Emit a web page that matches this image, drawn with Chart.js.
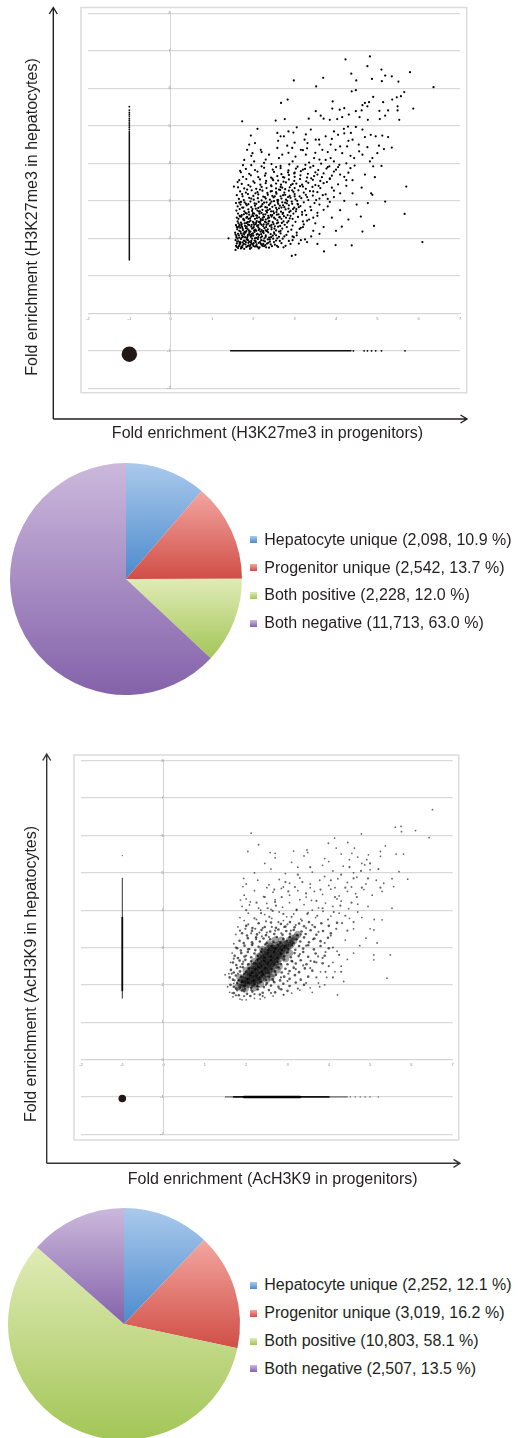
<!DOCTYPE html>
<html>
<head>
<meta charset="utf-8">
<script src="https://cdn.jsdelivr.net/npm/chart.js@4.4.1/dist/chart.umd.min.js"></script>
<style>
  body { margin: 0; width: 518px; height: 1438px; overflow: hidden; background: #fff; position: relative;
         font-family: "Liberation Sans", Arial, sans-serif; color: #231f20; }
  canvas { position: absolute; left: 0; }
  .title { position: absolute; font-size: 16px; line-height: 16px; white-space: nowrap; }
  .legend-row { position: absolute; left: 250px; font-size: 16px; line-height: 16px; white-space: nowrap; }
  .legend-row i { position: absolute; left: 0; top: 4.8px; width: 7px; height: 7px; }
  .legend-row span { position: absolute; left: 14.3px; top: 0; }
</style>
</head>
<body>
<canvas id="scatterK27" width="518" height="445" style="top:0px"></canvas>
<canvas id="pieK27" width="252" height="232" style="top:462.7px"></canvas>
<canvas id="scatterAc" width="518" height="450" style="top:740px"></canvas>
<canvas id="pieAc" width="248" height="232" style="top:1208.3px"></canvas>

<div class="title" style="left:267.5px; top:424.8px; transform:translateX(-50%)">Fold enrichment (H3K27me3 in progenitors)</div>
<div class="title" style="left:32.2px; top:217.2px; transform:translate(-50%,-50%) rotate(-90deg)">Fold enrichment (H3K27me3 in hepatocytes)</div>
<div class="title" style="left:272.7px; top:1170.8px; transform:translateX(-50%)">Fold enrichment (AcH3K9 in progenitors)</div>
<div class="title" style="left:30.5px; top:973.7px; transform:translate(-50%,-50%) rotate(-90deg)">Fold enrichment (AcH3K9 in hepatocytes)</div>

<div id="legendK27"></div>
<div id="legendAc"></div>

<script>
// ---- axes ----
const xRange = [-2, 7];
const yRange = [-2, 8];

// ---- pie data ----
const categories = ["Hepatocyte unique", "Progenitor unique", "Both positive", "Both negative"];
const k27Counts = [2098, 2542, 2228, 11713];
const k27Percents = [10.9, 13.7, 12.0, 63.0];
const acCounts = [2252, 3019, 10803, 2507];
const acPercents = [12.1, 16.2, 58.1, 13.5];

// ---- H3K27me3 scatter (progenitor x, hepatocyte y) ----
// peaks found only in hepatocytes sit at x = -1, only in progenitors at y = -1
const k27HepLine = [1.42, 4.85];
const k27HepDots = [4.9, 4.95, 5.0, 5.05, 5.1, 5.15, 5.2, 5.26, 5.31, 5.36, 5.42, 5.51];
const k27ProgLine = [1.45, 4.36];
const k27ProgDots = [4.42, 4.68, 4.76, 4.86, 4.96, 5.1, 5.67];
const k27BothNeg = [-1, -1.09];
const k27Cloud = [
  [1.63,1.74],[1.71,1.77],[1.78,1.72],[1.86,1.79],[1.95,1.75],[2.04,1.78],[2.13,1.73],[2.22,1.8],[2.31,1.76],[1.58,1.8],[2.45,1.79],[2.6,1.77],[2.78,1.8],
  [1.6,1.86],[1.67,1.83],[1.74,1.89],[1.81,1.84],[1.88,1.88],[1.93,1.82],[2.01,1.87],[2.08,1.84],[2.16,1.9],[2.24,1.85],[2.36,1.88],[2.52,1.83],[2.68,1.87],[2.9,1.85],[3.1,1.86],
  [1.57,1.95],[1.64,1.92],[1.7,1.98],[1.77,1.94],[1.84,1.97],[1.9,1.91],[1.97,1.99],[2.05,1.93],[2.11,1.98],[2.19,1.95],[2.28,1.92],[2.4,1.97],[2.55,1.94],[2.71,1.99],[2.86,1.93],[3.25,1.97],
  [1.59,2.06],[1.66,2.02],[1.73,2.08],[1.8,2.03],[1.87,2.09],[1.94,2.04],[2.0,2.07],[2.07,2.01],[2.14,2.09],[2.21,2.05],[2.3,2.08],[2.38,2.02],[2.47,2.07],[2.62,2.04],[2.8,2.09],[2.98,2.03],[3.4,2.05],
  [1.56,2.15],[1.63,2.12],[1.69,2.18],[1.76,2.13],[1.83,2.19],[1.9,2.14],[1.96,2.11],[2.03,2.17],[2.1,2.12],[2.17,2.18],[2.25,2.14],[2.33,2.19],[2.42,2.11],[2.5,2.16],[2.66,2.13],[2.84,2.18],[3.05,2.15],[3.6,2.12],
  [1.61,2.24],[1.68,2.28],[1.75,2.22],[1.82,2.27],[1.89,2.21],[1.97,2.26],[2.05,2.23],[2.12,2.29],[2.2,2.22],[2.27,2.27],[2.35,2.24],[2.44,2.29],[2.55,2.21],[2.7,2.26],[2.92,2.23],[3.15,2.28],
  [1.58,2.35],[1.65,2.32],[1.72,2.38],[1.8,2.33],[1.87,2.37],[1.95,2.31],[2.02,2.36],[2.09,2.33],[2.17,2.39],[2.24,2.32],[2.32,2.36],[2.4,2.33],[2.49,2.38],[2.6,2.31],[2.76,2.36],[2.95,2.34],[3.22,2.37],
  [1.62,2.45],[1.7,2.42],[1.78,2.48],[1.86,2.43],[1.93,2.47],[2.01,2.41],[2.08,2.46],[2.16,2.43],[2.23,2.49],[2.31,2.42],[2.39,2.46],[2.47,2.43],[2.58,2.48],[2.69,2.41],[2.85,2.46],[3.02,2.44],[3.3,2.47],
  [1.6,2.55],[1.68,2.58],[1.76,2.52],[1.85,2.57],[1.92,2.53],[2.0,2.59],[2.09,2.54],[2.18,2.51],[2.26,2.57],[2.35,2.53],[2.44,2.58],[2.53,2.52],[2.63,2.56],[2.74,2.59],[2.88,2.53],[3.08,2.57],[3.45,2.55],
  [1.63,2.66],[1.72,2.62],[1.81,2.68],[1.9,2.63],[1.99,2.67],[2.07,2.61],[2.15,2.66],[2.24,2.63],[2.33,2.69],[2.42,2.62],[2.5,2.67],[2.61,2.64],[2.72,2.68],[2.83,2.62],[2.97,2.66],[3.18,2.63],[3.55,2.68],
  [1.59,2.74],[1.67,2.78],[1.78,2.72],[1.88,2.77],[1.97,2.73],[2.06,2.79],[2.14,2.71],[2.22,2.76],[2.31,2.73],[2.4,2.78],[2.48,2.72],[2.57,2.76],[2.67,2.71],[2.78,2.77],[2.9,2.73],[3.04,2.78],[3.25,2.74],[3.7,2.76],
  [1.62,2.85],[1.73,2.82],[1.84,2.88],[1.95,2.83],[2.04,2.87],[2.12,2.81],[2.2,2.86],[2.29,2.83],[2.38,2.89],[2.46,2.84],[2.55,2.81],[2.64,2.87],[2.75,2.83],[2.86,2.88],[2.99,2.82],[3.14,2.86],[3.38,2.84],
  [1.58,2.94],[1.7,2.97],[1.82,2.92],[1.93,2.98],[2.03,2.93],[2.13,2.97],[2.22,2.91],[2.32,2.96],[2.41,2.93],[2.5,2.99],[2.6,2.92],[2.7,2.96],[2.81,2.93],[2.93,2.98],[3.07,2.92],[3.22,2.96],[3.48,2.94],[3.85,2.97],
  [1.65,3.05],[1.77,3.02],[1.9,3.08],[2.01,3.03],[2.11,3.07],[2.2,3.01],[2.3,3.06],[2.4,3.03],[2.49,3.09],[2.58,3.02],[2.68,3.06],[2.79,3.03],[2.9,3.08],[3.02,3.04],[3.16,3.07],[3.33,3.02],[3.6,3.06],
  [1.6,3.15],[1.74,3.12],[1.87,3.18],[2.0,3.13],[2.12,3.17],[2.24,3.11],[2.35,3.16],[2.46,3.13],[2.56,3.19],[2.66,3.12],[2.77,3.16],[2.88,3.13],[3.0,3.18],[3.12,3.12],[3.27,3.16],[3.44,3.14],[3.75,3.17],
  [1.68,3.25],[1.82,3.22],[1.96,3.28],[2.1,3.23],[2.22,3.27],[2.34,3.21],[2.45,3.26],[2.55,3.23],[2.65,3.29],[2.75,3.22],[2.86,3.27],[2.97,3.24],[3.09,3.28],[3.22,3.22],[3.37,3.26],[3.55,3.23],[3.95,3.27],
  [1.63,3.36],[1.78,3.33],[1.93,3.38],[2.07,3.32],[2.2,3.37],[2.32,3.34],[2.44,3.39],[2.55,3.33],[2.66,3.37],[2.77,3.31],[2.88,3.36],[3.0,3.34],[3.13,3.39],[3.27,3.32],[3.43,3.37],[3.62,3.34],
  [1.72,3.45],[1.88,3.42],[2.03,3.48],[2.17,3.43],[2.3,3.47],[2.43,3.41],[2.55,3.46],[2.67,3.43],[2.79,3.49],[2.91,3.42],[3.04,3.46],[3.18,3.43],[3.33,3.48],[3.5,3.42],[3.7,3.47],[4.05,3.44],
  [1.66,3.55],[1.83,3.58],[2.0,3.52],[2.16,3.57],[2.31,3.53],[2.46,3.59],[2.6,3.54],[2.73,3.51],[2.86,3.57],[2.99,3.53],[3.13,3.58],[3.28,3.52],[3.44,3.56],[3.62,3.53],[3.85,3.58],
  [1.75,3.64],[1.94,3.68],[2.12,3.63],[2.28,3.67],[2.43,3.62],[2.58,3.66],[2.72,3.63],[2.86,3.69],[3.0,3.64],[3.14,3.68],[3.3,3.62],[3.47,3.66],[3.66,3.63],[3.9,3.67],[4.2,3.64],
  [1.7,3.76],[1.9,3.72],[2.1,3.78],[2.3,3.73],[2.5,3.77],[2.68,3.71],[2.84,3.76],[2.99,3.73],[3.15,3.79],[3.32,3.72],[3.5,3.76],[3.7,3.73],[3.95,3.78],[4.3,3.75],
  [1.82,3.85],[2.04,3.82],[2.26,3.88],[2.47,3.83],[2.66,3.87],[2.85,3.81],[3.03,3.86],[3.2,3.83],[3.38,3.89],[3.57,3.82],[3.77,3.86],[4.0,3.83],[4.35,3.87],
  [1.95,3.95],[2.2,3.92],[2.44,3.98],[2.66,3.93],[2.87,3.97],[3.07,3.91],[3.26,3.96],[3.45,3.93],[3.64,3.99],[3.84,3.92],[4.08,3.96],[4.45,3.94],
  [1.65,1.79],[1.69,1.88],[1.74,1.81],[1.79,1.93],[1.83,1.77],[1.87,1.95],[1.91,1.78],[1.96,1.86],[2.0,1.8],[2.06,1.9],[2.1,1.77],[2.18,1.86],[2.26,1.79],
  [1.62,1.99],[1.72,2.02],[1.78,2.1],[1.85,2.01],[1.92,2.09],[1.99,2.13],[2.04,2.0],[2.12,2.03],[2.19,2.11],[2.27,2.0],
  [1.66,2.2],[1.74,2.26],[1.79,2.17],[1.86,2.25],[1.93,2.18],[2.0,2.28],[2.07,2.2],[2.15,2.25],[2.22,2.17],[2.3,2.21],
  [1.64,2.4],[1.71,2.33],[1.83,2.41],[1.9,2.35],[1.99,2.44],[2.06,2.38],[2.13,2.44],[2.2,2.36],[2.28,2.44],[2.36,2.39],
  [1.76,2.5],[1.88,2.52],[2.04,2.52],[2.14,2.56],[2.3,2.5],[1.68,1.9],[1.95,1.93],[2.33,1.86],[2.4,1.91],[2.48,1.99],
  [2.55,2.08],[2.62,2.18],[2.44,2.24],[2.52,2.32],[2.6,2.42],[2.68,2.52],[2.38,2.55],[2.46,2.62],[2.56,2.7],[2.62,2.8],
  [2.72,2.88],[2.35,2.75],[2.2,2.68],[2.1,2.74],[1.98,2.62],[1.84,2.66],[1.76,2.82],[1.67,2.6],[1.6,2.3],[1.57,2.1],
  [1.61,1.91],[1.7,1.73],[1.92,1.72],[2.15,1.76],[2.38,1.75],[2.73,1.76],[2.95,1.95],[3.05,2.08],[3.12,2.25],[3.2,2.45],
  [3.28,2.62],[2.82,2.42],[2.9,2.6],[2.96,2.78],[3.08,2.9],[3.0,3.12],[2.94,3.28],[2.82,3.0],[2.72,3.15],[2.62,3.3],
  [2.52,3.12],[2.42,3.25],[2.28,3.1],[2.16,3.3],[2.05,3.2],[1.95,3.06],[1.85,3.3],[1.73,3.18],[1.66,2.95],
  [1.6,1.77],[1.67,1.86],[1.73,1.76],[1.77,1.85],[1.82,1.9],[1.89,1.81],[1.94,1.89],[1.99,1.84],[2.03,1.94],[2.07,1.8],
  [2.13,1.88],[2.2,1.83],[2.24,1.94],[2.29,1.82],[2.35,1.97],[2.42,1.84],[2.5,1.9],[2.57,1.8],[2.64,1.93],
  [1.59,2.02],[1.65,2.08],[1.7,2.13],[1.75,2.04],[1.81,2.15],[1.86,2.05],[1.91,2.18],[1.96,2.07],[2.02,2.21],[2.08,2.1],
  [2.13,2.22],[2.18,2.02],[2.24,2.19],[2.3,2.04],[2.36,2.16],[2.43,2.03],[2.51,2.12],[2.58,2.0],[2.66,2.2],[2.75,2.05],
  [1.62,2.29],[1.67,2.36],[1.73,2.3],[1.79,2.4],[1.84,2.31],[1.9,2.44],[1.96,2.36],[2.01,2.3],[2.07,2.42],[2.12,2.35],
  [2.18,2.47],[2.25,2.37],[2.31,2.3],[2.37,2.45],[2.44,2.36],[2.51,2.26],[2.57,2.4],[2.65,2.33],[2.73,2.45],[2.81,2.3],
  [1.64,2.52],[1.71,2.58],[1.77,2.64],[1.83,2.55],[1.89,2.7],[1.95,2.58],[2.02,2.66],[2.09,2.6],[2.16,2.72],[2.23,2.55],
  [2.29,2.64],[2.36,2.6],[2.43,2.72],[2.5,2.55],[2.57,2.63],[2.64,2.57],[2.71,2.65],[2.79,2.55],[2.87,2.7],[2.95,2.52],
  [1.69,2.9],[1.79,2.96],[1.88,2.91],[1.98,2.78],[2.07,2.92],[2.17,2.84],[2.26,2.95],[2.33,2.82],[2.44,2.98],[2.52,2.88],
  [2.59,2.97],[2.68,2.82],[2.77,2.95],[2.85,2.79],[2.94,2.92],[3.03,2.72],[3.1,2.83],[3.18,2.7],
  [2.6,3.02],[2.84,3.1],[3.06,3.0],[3.3,3.1],[3.52,3.02],[2.7,3.35],[2.95,3.45],[3.2,3.38],[3.4,3.6],[3.58,3.4],
  [3.78,3.5],[2.48,3.55],[2.75,3.62],[3.0,3.75],[3.25,3.85],[3.55,3.7],[3.8,3.9],[4.1,3.7],[2.55,3.9],[2.95,4.05],
  [3.35,4.02],[3.6,4.1],[3.95,4.05],[4.25,4.0],[4.35,4.2],[2.3,4.1],[2.85,4.28],[3.2,4.35],[3.5,4.28],[3.8,4.3],
  [4.1,4.45],[4.3,4.6],[3.0,4.55],[3.6,4.5],[3.9,4.65],[4.55,4.5],[4.2,4.8],[3.3,4.4],[2.6,4.6],[2.2,4.3],
  [1.95,4.2],[1.75,3.95],[1.68,3.8],[1.62,3.5],[3.45,3.25],[3.68,3.15],[3.9,3.35],[4.1,3.2],[4.25,3.55],[4.05,3.9],
  [3.85,3.6],[3.4,2.75],[3.6,2.9],[3.8,3.05],[3.35,2.5],[3.55,2.6],[3.2,2.3],[3.45,2.2],[2.95,2.05],[3.15,1.95],
  [3.7,2.3],[3.9,2.55],[4.1,2.75],[3.5,2.4],[3.8,2.85],[4.2,3.0],[4.4,3.2],[3.95,3.1],[4.0,2.2],[3.3,1.9],
  [3.55,1.85],[4.3,2.5],[4.5,2.9],[4.62,3.35],[4.4,3.55],[4.25,3.4],[4.7,3.7],[4.9,3.92],[4.82,4.05],
  [4.23,6.77],[4.82,6.85],[4.76,6.59],[4.37,6.39],[5.1,6.5],[5.19,6.34],[5.35,6.32],[5.79,6.43],[4.87,6.25],[5.11,6.19],
  [5.51,6.18],[4.49,6.21],[2.98,6.21],[3.69,6.28],[3.52,6.05],[6.36,6.03],[4.38,5.92],[4.48,5.95],[5.65,5.9],[5.57,5.79],
  [5.47,5.76],[5.36,5.7],[5.14,5.63],[4.9,5.77],[4.8,5.63],[4.7,5.61],[4.64,5.55],[4.76,5.52],[5.87,5.46],[5.49,5.52],
  [5.49,5.41],[5.26,5.41],[5.05,5.4],[5.19,5.27],[5.06,5.18],[5.53,5.16],[2.83,5.7],[2.67,5.61],[3.92,5.65],[3.91,5.46],
  [3.51,5.39],[3.63,5.27],[3.7,5.19],[3.85,5.16],[4.03,5.18],[4.15,5.23],[4.2,5.47],[4.09,5.43],[4.31,5.3],[4.48,5.39],
  [4.57,5.23],[4.62,5.41],[4.77,5.16],[1.73,5.12],[2.54,5.14],[2.76,5.18],[3.34,5.19],[2.1,4.92],[1.94,4.74],[2.58,4.81],
  [2.66,4.72],[2.74,4.72],[2.85,4.85],[2.97,4.82],[3.05,4.96],[3.27,4.77],[3.39,4.9],[3.24,4.63],[3.51,4.63],[3.75,4.72],
  [3.95,4.85],[4.05,4.76],[4.19,4.92],[4.29,4.98],[4.36,4.81],[4.48,4.97],[4.64,4.9],[4.7,4.7],[4.84,4.76],[4.96,4.72],
  [5.12,4.74],[5.26,4.7],[5.35,4.42],[5.04,4.47],[5.16,4.38],[4.76,4.43],[5.0,4.27],[4.88,4.14],[2.04,4.54],[1.9,4.5],
  [1.85,4.36],[1.98,4.27],[2.18,4.36],[2.58,4.41],[2.7,4.23],[2.82,4.47],[2.94,4.41],[3.15,4.36],[3.31,4.54],[3.59,4.63],
  [3.67,4.36],[3.87,4.5],[3.99,4.36],[4.15,4.27],[4.27,4.45],[4.4,4.63],[4.56,4.32],[4.44,4.14],[4.64,4.23],[3.87,4.14],
  [3.75,4.09],[3.47,4.14],[3.27,4.23],[3.02,4.18],[2.62,4.14],[2.38,4.23],[1.78,4.09],[2.02,4.05],[2.26,4.01],[5.7,3.38],
  [5.66,2.65],[6.09,1.9],[5.19,2.98],[4.92,2.33],[4.77,2.94],[4.88,3.16],[5.1,3.93],[4.94,3.63],[4.85,3.2],[4.6,2.58],
  [4.64,2.18],[4.38,1.81],[4.14,2.31],[3.99,1.82],[3.71,1.65],[3.02,1.56],[2.93,1.53],[1.57,1.69],[1.53,3.38],[1.4,2.0]
];

// ---- AcH3K9 scatter ----
const acHepLine = [1.64, 4.86];
const acHepMid = [1.85, 3.8];
const acHepDots = [5.46];
const acProgLine = [1.49, 4.45];
const acProgMid = [1.7, 4.0];
const acProgCore = [1.95, 3.3];
const acProgDots = [4.52, 4.64, 4.76, 4.88, 5.0, 5.2];
const acBothNeg = [-1, -1.04];
const acCore = [
  [1.95,2.05],[1.95,2.15],[2.0,2.0],[2.0,2.12],[2.0,2.25],[2.05,2.08],[2.05,2.2],[2.05,2.32],
  [2.1,2.0],[2.1,2.12],[2.1,2.25],[2.1,2.38],[2.15,2.05],[2.15,2.18],[2.15,2.3],[2.15,2.42],
  [2.2,2.02],[2.2,2.14],[2.2,2.26],[2.2,2.38],[2.2,2.5],[2.25,2.08],[2.25,2.2],[2.25,2.33],[2.25,2.45],[2.25,2.57],
  [2.3,2.12],[2.3,2.25],[2.3,2.38],[2.3,2.5],[2.3,2.62],[2.35,2.15],[2.35,2.28],[2.35,2.4],[2.35,2.53],[2.35,2.66],[2.35,2.78],
  [2.4,2.2],[2.4,2.32],[2.4,2.45],[2.4,2.58],[2.4,2.7],[2.4,2.82],[2.45,2.25],[2.45,2.38],[2.45,2.5],[2.45,2.62],[2.45,2.75],[2.45,2.88],
  [2.5,2.3],[2.5,2.42],[2.5,2.55],[2.5,2.67],[2.5,2.8],[2.5,2.93],[2.55,2.36],[2.55,2.48],[2.55,2.6],[2.55,2.72],[2.55,2.85],[2.55,2.98],
  [2.6,2.42],[2.6,2.55],[2.6,2.67],[2.6,2.8],[2.6,2.92],[2.6,3.04],[2.65,2.5],[2.65,2.62],[2.65,2.74],[2.65,2.86],[2.65,2.98],
  [2.7,2.56],[2.7,2.68],[2.7,2.8],[2.7,2.93],[2.7,3.05],[2.75,2.62],[2.75,2.75],[2.75,2.88],[2.75,3.0],
  [2.8,2.7],[2.8,2.82],[2.8,2.95],[2.8,3.08],[2.85,2.78],[2.85,2.9],[2.85,3.02],[2.9,2.85],[2.9,2.98],[2.9,3.1],
  [2.95,2.93],[2.95,3.05],[3.0,3.0],[3.0,3.12],
  [1.8,1.95],[1.85,2.05],[1.88,1.92],[1.9,2.15],[1.92,2.02],[3.05,3.05],[3.05,3.2],[3.1,3.1],[3.1,3.25],[3.15,3.18],
  [3.2,3.28],[3.25,3.35],[2.0,2.38],[2.1,2.5],[2.2,2.62],[2.3,2.75],[2.4,2.95],[2.55,3.1],[2.7,3.2],[2.85,3.2],
  [2.2,1.92],[2.35,2.02],[2.5,2.15],[2.65,2.3],[2.8,2.5],[2.95,2.7],[3.05,2.85],[2.75,2.4],[2.6,2.2],[1.85,2.2],[1.98,1.9]
];
const acDense = [
  [1.7,1.78],[1.82,1.72],[1.9,1.85],[2.02,1.76],[2.15,1.82],[2.28,1.88],[2.4,1.79],[2.55,1.86],[2.7,1.8],[2.85,1.88],[1.76,1.9],[1.97,1.88],[2.1,1.7],[2.33,1.74],[3.0,1.84],
  [1.62,2.0],[1.7,1.95],[1.78,2.05],[1.85,1.93],[1.9,2.08],[1.97,1.98],[2.05,2.06],[2.12,1.92],[2.2,2.02],[2.27,1.96],[2.35,2.08],[2.43,1.94],[2.5,2.04],[2.6,1.98],[2.68,2.07],[2.78,1.95],[2.9,2.03],[3.05,1.97],[3.2,2.06],[3.4,2.0],
  [1.6,2.2],[1.68,2.14],[1.75,2.25],[1.82,2.12],[1.88,2.22],[1.95,2.28],[2.03,2.15],[2.1,2.26],[2.18,2.12],[2.25,2.24],[2.32,2.16],[2.4,2.28],[2.48,2.13],[2.56,2.22],[2.64,2.15],[2.72,2.27],[2.82,2.12],[2.92,2.22],[3.05,2.16],[3.18,2.26],[3.32,2.14],[3.5,2.22],
  [1.63,2.4],[1.7,2.33],[1.78,2.45],[1.85,2.36],[1.92,2.47],[2.0,2.35],[2.07,2.44],[2.14,2.32],[2.22,2.42],[2.3,2.48],[2.38,2.35],[2.46,2.44],[2.54,2.32],[2.62,2.42],[2.7,2.36],[2.78,2.47],[2.86,2.33],[2.95,2.43],[3.05,2.37],[3.15,2.46],[3.28,2.34],[3.42,2.44],[3.6,2.38],
  [1.68,2.6],[1.76,2.53],[1.84,2.65],[1.91,2.56],[1.98,2.67],[2.05,2.55],[2.12,2.63],[2.2,2.58],[2.28,2.68],[2.36,2.52],[2.44,2.64],[2.52,2.57],[2.6,2.66],[2.68,2.54],[2.76,2.62],[2.84,2.56],[2.92,2.68],[3.0,2.55],[3.1,2.64],[3.2,2.57],[3.32,2.66],[3.46,2.55],[3.65,2.62],[3.85,2.58],
  [1.72,2.78],[1.8,2.72],[1.88,2.85],[1.96,2.76],[2.04,2.88],[2.12,2.74],[2.2,2.84],[2.28,2.77],[2.36,2.89],[2.44,2.73],[2.52,2.84],[2.6,2.76],[2.68,2.88],[2.76,2.72],[2.84,2.83],[2.92,2.76],[3.0,2.87],[3.08,2.74],[3.17,2.85],[3.27,2.77],[3.38,2.88],[3.5,2.75],[3.68,2.84],[3.9,2.78],
  [1.78,2.98],[1.87,2.92],[1.96,3.05],[2.05,2.95],[2.14,3.07],[2.22,2.93],[2.3,3.02],[2.38,2.96],[2.46,3.08],[2.54,2.94],[2.62,3.04],[2.7,2.97],[2.78,3.08],[2.86,2.93],[2.94,3.03],[3.02,2.96],[3.1,3.07],[3.19,2.94],[3.28,3.04],[3.38,2.97],[3.5,3.06],[3.64,2.95],[3.8,3.04],[4.0,2.98],
  [1.84,3.18],[1.94,3.12],[2.04,3.25],[2.14,3.14],[2.24,3.27],[2.33,3.16],[2.42,3.24],[2.5,3.12],[2.58,3.22],[2.66,3.15],[2.74,3.28],[2.82,3.13],[2.9,3.23],[2.98,3.17],[3.06,3.28],[3.14,3.12],[3.22,3.22],[3.31,3.16],[3.4,3.27],[3.52,3.14],[3.65,3.24],[3.8,3.17],[3.98,3.26],
  [1.9,3.38],[2.02,3.32],[2.14,3.45],[2.26,3.35],[2.37,3.47],[2.48,3.33],[2.58,3.43],[2.68,3.36],[2.78,3.48],[2.88,3.34],[2.97,3.44],[3.06,3.37],[3.15,3.47],[3.24,3.33],[3.34,3.43],[3.44,3.36],[3.56,3.46],[3.7,3.34],[3.86,3.44],[4.05,3.38],
  [2.0,3.58],[2.15,3.52],[2.3,3.65],[2.45,3.55],[2.6,3.67],[2.72,3.53],[2.84,3.63],[2.95,3.56],[3.06,3.68],[3.17,3.54],[3.28,3.64],[3.4,3.57],[3.52,3.68],[3.66,3.55],[3.82,3.65],[4.0,3.58],[4.2,3.66]
];
const acMid = [
  [1.72,2.12],[1.8,2.3],[1.86,2.48],[1.93,2.62],[2.0,2.78],[2.08,2.96],[2.16,3.1],[2.24,3.22],[2.32,3.4],[2.4,3.52],[2.48,3.7],[2.56,3.82],[2.64,3.98],[2.72,4.12],
  [1.78,1.85],[1.95,1.82],[2.12,1.86],[2.3,1.95],[2.48,2.0],[2.66,2.1],[2.84,2.2],[3.02,2.3],[3.2,2.42],[3.38,2.52],[3.56,2.64],[3.74,2.76],[3.92,2.88],[4.1,3.0],
  [2.05,3.62],[2.2,3.78],[2.36,3.92],[2.52,4.05],[2.7,4.22],[2.86,4.35],[3.02,4.5],[3.18,4.62],[3.36,4.75],
  [2.9,3.9],[3.0,3.62],[3.1,3.82],[3.22,4.0],[3.35,3.72],[3.48,3.9],[3.6,3.6],[3.72,3.85],[3.85,4.05],[3.98,3.75],[4.12,3.95],[4.28,4.12],[4.4,3.85],[4.55,4.2],[4.68,4.35],[4.8,4.6],[4.95,4.85],
  [3.12,2.62],[3.3,2.82],[3.45,3.05],[3.62,3.22],[3.75,3.42],[3.9,3.12],[4.05,3.32],[4.18,3.5],[4.32,3.65],[4.45,3.45],[4.6,3.68],[3.55,2.45],[3.7,2.6],[3.85,2.72],[4.0,2.5],[4.25,2.8],
  [2.5,3.4],[2.62,3.55],[2.78,3.68],[2.92,3.55],[3.08,3.45],[3.2,3.6],[3.32,3.35],[3.45,3.52],[2.85,3.38],[2.7,3.45],[2.55,3.28],[2.38,3.3],[2.22,3.5],[2.12,3.38],[1.98,3.5],[1.85,3.45],[1.75,3.0],[1.7,2.7],[1.65,2.3],
  [2.0,4.0],[2.25,4.2],[2.45,4.35],[2.68,4.55],[2.95,4.75],[3.25,4.95],[3.55,5.15],[3.8,4.55],[4.05,4.8],[4.3,4.95],[4.5,5.15],[3.45,4.45],[3.7,4.25],[4.15,4.35],[4.4,4.6],[4.6,4.85],[4.78,5.05],[5.0,5.25],[5.2,5.1],[5.25,4.6],
  [3.92,2.35],[4.1,2.2],[4.3,2.35],[3.7,2.2],[3.45,2.05],[3.25,1.9],[3.0,2.1],[2.8,1.9],[2.6,1.78],[2.4,1.7],[2.2,1.75],[1.95,1.7],[1.75,1.72]
];
const acSparse = [
  [1.85,3.8],[2.05,3.92],[2.25,3.75],[2.45,3.88],[2.62,3.78],[2.8,3.95],[2.98,3.82],[3.15,3.9],[3.32,3.76],[3.5,3.93],[3.68,3.8],[3.86,3.97],[4.05,3.84],[4.25,3.92],[4.5,3.78],[1.95,3.72],[2.35,4.0],[2.9,3.72],[3.6,4.0],[4.7,3.95],
  [1.9,4.1],[2.1,4.22],[2.3,4.05],[2.5,4.18],[2.7,4.28],[2.88,4.08],[3.05,4.2],[3.22,4.02],[3.4,4.15],[3.58,4.26],[3.75,4.06],[3.92,4.19],[4.1,4.1],[4.3,4.24],[4.48,4.04],[4.7,4.16],[4.95,4.1],[2.0,4.3],[2.6,4.02],[3.3,4.28],[4.2,4.3],
  [1.95,4.4],[2.2,4.52],[2.42,4.36],[2.65,4.48],[2.85,4.58],[3.05,4.4],[3.25,4.52],[3.45,4.35],[3.65,4.5],[3.85,4.42],[4.05,4.56],[4.25,4.38],[4.45,4.5],[4.65,4.44],[4.85,4.55],[5.05,4.4],[2.5,4.6],[3.55,4.6],[4.15,4.6],
  [2.0,4.7],[2.28,4.8],[2.55,4.68],[2.8,4.82],[3.05,4.72],[3.3,4.86],[3.55,4.7],[3.78,4.8],[4.0,4.66],[4.22,4.84],[4.45,4.74],[4.68,4.88],[4.9,4.7],[5.15,4.8],[2.9,4.62],[3.9,4.9],[4.55,4.62],
  [2.2,5.0],[2.6,5.1],[2.95,4.98],[3.25,5.15],[3.6,5.02],[3.85,5.2],[4.1,5.05],[4.35,5.18],[4.6,5.0],[4.8,5.25],[5.0,5.08],[3.1,5.28],[4.0,5.3],[2.45,5.25],
  [2.7,5.4],[3.4,5.45],[3.9,5.38],[4.3,5.5],[4.7,5.42],[3.15,5.58],[4.5,5.35],
  [1.55,1.95],[1.58,2.3],[1.62,2.6],[1.66,2.85],[1.7,3.1],[1.75,3.35],[1.8,3.55],[1.6,1.8],[1.68,1.68],[1.85,1.62],[2.0,1.6],[2.2,1.64],[2.45,1.66],[2.65,1.7],[2.9,1.74],[3.1,1.78],[3.3,1.86],[3.55,1.92],
  [3.75,2.05],[3.95,2.2],[4.15,2.35],[4.3,2.5],[4.45,2.68],[4.6,2.85],[4.75,3.05],[4.9,3.25],[5.0,3.5],[5.1,3.75],[4.2,2.9],[4.4,3.2],[4.1,2.6],[3.8,2.35],[4.6,3.5],[4.8,3.8],[3.6,1.8],[3.9,2.0],
  [6.51,6.69],[6.43,5.94],[6.1,6.13],[5.75,6.24],[5.61,6.22],[5.76,6.1],[4.79,6.04],[5.63,5.5],[5.81,5.5],[5.7,5.03],[5.91,4.83],[5.53,4.84],[5.53,4.05],[5.29,3.74],[5.49,2.8],[5.09,2.67],[5.41,2.18],[4.21,1.73],
  [2.12,6.06],[2.3,5.75],[2.04,5.57],[2.58,5.54],[2.7,5.52],[3.47,5.61],[3.49,5.54],[3.99,5.79],[4.14,5.93],[4.46,5.81],[4.18,5.66],[4.62,5.66],[5.37,5.72],[5.25,5.57],[5.25,5.44],[4.96,5.48],[4.92,5.35],[4.87,5.21],[4.56,5.52],
  [1.94,4.85],[1.92,4.63],[1.86,4.27],[2.08,4.14],[1.49,2.27],[1.7,2.04],[1.66,1.78],[1.9,1.6],[2.34,1.62],[2.91,1.73],[3.78,1.95],[4.36,2.09],[5.09,2.8],[5.17,3.12],[5.09,3.47],[5.29,4.5],[5.33,4.72],[5.57,4.63]
];

Chart.defaults.font.family = '"Liberation Sans", Arial, sans-serif';

function pts(pairs) { return pairs.map(p => ({ x: p[0], y: p[1] })); }

// gray frame round the plot and the two axis arrows outside it
const framePlugin = {
  id: 'frameArrows',
  beforeDraw(chart, args, o) {
    const a = chart.chartArea, c = chart.ctx;
    c.save();
    c.strokeStyle = '#dcdcdc';
    c.lineWidth = 1.5;
    c.strokeRect(a.left + o.frame[0], a.top + o.frame[1],
      a.right + o.frame[2] - (a.left + o.frame[0]), a.bottom + o.frame[3] - (a.top + o.frame[1]));
    c.restore();
  },
  afterDraw(chart, args, o) {
    const a = chart.chartArea, c = chart.ctx;
    const ax = a.left + o.arrow[0], by = a.bottom + o.arrow[1];
    const ty = a.top + o.arrow[2], rx = a.right + o.arrow[3];
    c.save();
    c.strokeStyle = o.color;
    c.lineWidth = 1.4;
    c.beginPath();
    c.moveTo(ax, by); c.lineTo(ax, ty);
    c.moveTo(ax, by); c.lineTo(rx, by);
    c.moveTo(ax - 4, ty + 6.5); c.lineTo(ax, ty); c.lineTo(ax + 4, ty + 6.5);
    c.moveTo(rx - 6.5, by - 4); c.lineTo(rx, by); c.lineTo(rx - 6.5, by + 4);
    c.stroke();
    c.restore();
  }
};

function vLine(ys, width, color) {
  return { type: 'line', data: ys.map(v => ({ x: -1, y: v })), borderColor: color, borderWidth: width,
           pointRadius: 0, showLine: true, fill: false, borderCapStyle: 'round' };
}
function hLine(xs, width, color) {
  return { type: 'line', data: xs.map(v => ({ x: v, y: -1 })), borderColor: color, borderWidth: width,
           pointRadius: 0, showLine: true, fill: false, borderCapStyle: 'round' };
}
function dots(data, r, color) {
  return { data: data, pointRadius: r, pointBorderWidth: 0, backgroundColor: color, borderColor: color };
}

function scatterOptions(padding, plug) {
  return {
    responsive: false,
    animation: false,
    events: [],
    layout: { padding: padding },
    scales: {
      x: {
        type: 'linear', min: xRange[0], max: xRange[1], position: { y: 0 },
        grid: { display: false, drawTicks: false },
        border: { display: true, color: '#d4d4d4', width: 1 },
        ticks: { stepSize: 1, font: { size: 4 }, color: '#8a8a8a', padding: 3 }
      },
      y: {
        type: 'linear', min: yRange[0], max: yRange[1], position: { x: 0 },
        grid: { color: '#d9d9d9', lineWidth: 1.2, drawTicks: false },
        border: { display: true, color: '#d4d4d4', width: 1 },
        ticks: { stepSize: 1, font: { size: 4 }, color: '#8a8a8a', padding: 2 }
      }
    },
    plugins: { legend: { display: false }, tooltip: { enabled: false }, frameArrows: plug }
  };
}

// H3K27me3 scatter
new Chart(document.getElementById('scatterK27'), {
  type: 'scatter',
  data: {
    datasets: [
      dots(pts(k27Cloud), 1.1, '#000'),
      vLine(k27HepLine, 1.5, '#111'),
      dots(k27HepDots.map(v => ({ x: -1, y: v })), 0.9, '#000'),
      hLine(k27ProgLine, 1.6, '#111'),
      dots(k27ProgDots.map(v => ({ x: v, y: -1 })), 0.9, '#000'),
      dots([{ x: k27BothNeg[0], y: k27BothNeg[1] }], 7.7, '#231815')
    ]
  },
  options: scatterOptions({ left: 88, right: 58, top: 13.3, bottom: 56.7 },
    { frame: [-7, -5.8, 6.7, 4.4], arrow: [-34.7, 30.7, -5.8, 7], color: '#231f20' }),
  plugins: [framePlugin]
});

// AcH3K9 scatter
new Chart(document.getElementById('scatterAc'), {
  type: 'scatter',
  data: {
    datasets: [
      dots(pts(acSparse), 0.9, 'rgba(0,0,0,0.6)'),
      dots(pts(acMid), 1.1, 'rgba(0,0,0,0.6)'),
      dots(pts(acDense), 1.3, 'rgba(0,0,0,0.65)'),
      dots(pts(acCore), 3.6, 'rgba(0,0,0,0.36)'),
      vLine(acHepLine, 1.0, 'rgba(0,0,0,0.8)'),
      vLine(acHepMid, 1.8, 'rgba(0,0,0,0.9)'),
      dots(acHepDots.map(v => ({ x: -1, y: v })), 0.7, 'rgba(0,0,0,0.6)'),
      hLine(acProgLine, 1, 'rgba(0,0,0,0.7)'),
      hLine(acProgMid, 1.8, 'rgba(0,0,0,0.85)'),
      hLine(acProgCore, 2.6, '#000'),
      dots(acProgDots.map(v => ({ x: v, y: -1 })), 0.7, 'rgba(0,0,0,0.6)'),
      dots([{ x: acBothNeg[0], y: acBothNeg[1] }], 3.8, '#231815')
    ]
  },
  options: scatterOptions({ left: 81, right: 65.3, top: 20.7, bottom: 55.7 },
    { frame: [-7, -5.7, 6, 5.7], arrow: [-34.3, 29, -6.7, 7.3], color: '#333' }),
  plugins: [framePlugin]
});

// ---- pies: each slice shaded light (top) to dark (bottom) over its own height ----
const lightColors = ['#aac9ec', '#f3a6a0', '#e0ebb6', '#cbb9dc'];
const darkColors = ['#4c8bce', '#d04e46', '#a3c657', '#8462aa'];

function sliceGradient(values) {
  return function (ctx) {
    const i = ctx.dataIndex;
    const area = ctx.chart.chartArea;
    if (i === undefined || !area) return darkColors[0];
    const cx = (area.left + area.right) / 2, cy = (area.top + area.bottom) / 2;
    const r = Math.min(area.right - area.left, area.bottom - area.top) / 2;
    const total = values.reduce((s, v) => s + v, 0);
    let before = 0;
    for (let k = 0; k < i; k++) before += values[k];
    const a0 = -Math.PI / 2 + before / total * 2 * Math.PI;
    const a1 = a0 + values[i] / total * 2 * Math.PI;
    const ys = [cy, cy + r * Math.sin(a0), cy + r * Math.sin(a1)];
    [-Math.PI / 2, Math.PI / 2, 3 * Math.PI / 2].forEach(a => {
      if (a >= a0 && a <= a1) ys.push(cy + r * Math.sin(a));
    });
    const g = ctx.chart.ctx.createLinearGradient(0, Math.min(...ys), 0, Math.max(...ys));
    g.addColorStop(0, lightColors[i]);
    g.addColorStop(1, darkColors[i]);
    return g;
  };
}

function pieChart(id, counts) {
  new Chart(document.getElementById(id), {
    type: 'pie',
    data: { labels: categories, datasets: [{ data: counts, backgroundColor: sliceGradient(counts),
      borderWidth: 0, hoverOffset: 0, offset: 0 }] },
    options: { responsive: false, animation: false, events: [], layout: { padding: 0 },
      plugins: { legend: { display: false }, tooltip: { enabled: false } } }
  });
}
pieChart('pieK27', k27Counts);
pieChart('pieAc', acCounts);

// legends beside the pies
function buildLegend(id, counts, percents, firstTop) {
  const box = document.getElementById(id);
  categories.forEach((label, i) => {
    const row = document.createElement('div');
    row.className = 'legend-row';
    row.style.top = (firstTop + i * 27.8) + 'px';
    const mark = document.createElement('i');
    mark.style.background = 'linear-gradient(' + lightColors[i] + ',' + darkColors[i] + ')';
    const text = document.createElement('span');
    text.textContent = label + ' (' + counts[i].toLocaleString('en-US') + ', ' + percents[i].toFixed(1) + ' %)';
    row.appendChild(mark);
    row.appendChild(text);
    box.appendChild(row);
  });
}
buildLegend('legendK27', k27Counts, k27Percents, 531.7);
buildLegend('legendAc', acCounts, acPercents, 1277.2);
</script>
</body>
</html>
